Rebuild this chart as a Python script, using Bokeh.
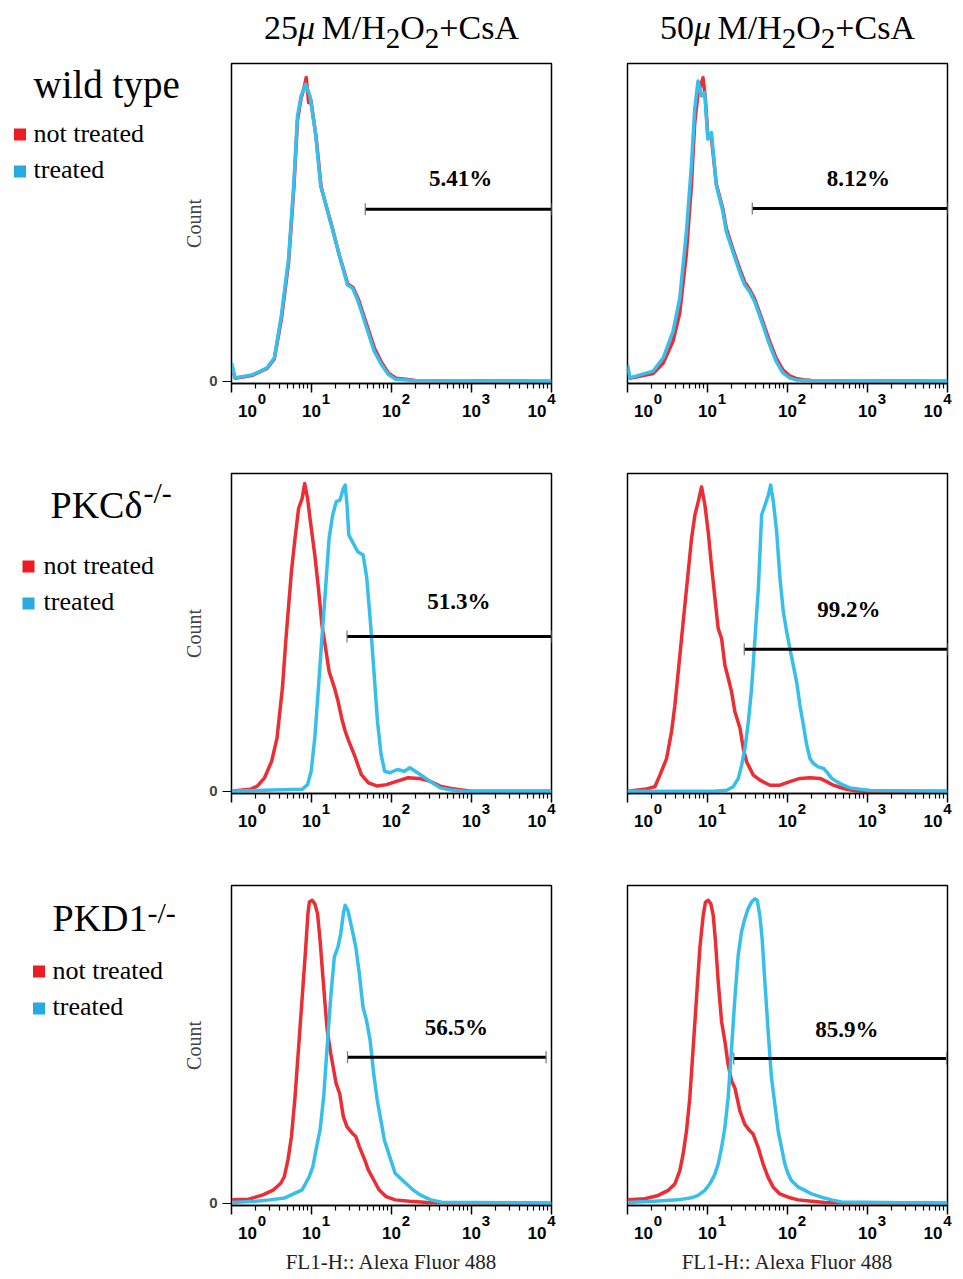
from bokeh.plotting import figure
from bokeh.models import (Range1d, FixedTicker, Label, LogAxis, CustomJSTickFormatter, Spacer)
from bokeh.layouts import row, column
from bokeh.embed import file_html
from bokeh.resources import INLINE

# ---------------------------------------------------------------- data
CONCENTRATIONS = ["25", "50"]
GENOTYPES = ["wild type", "PKCδ", "PKD1"]
SERIES = ["not treated", "treated"]
X_AXIS_LABEL = "FL1-H:: Alexa Fluor 488"
Y_AXIS_LABEL = "Count"
TICK_VALUES = [1, 10, 100, 1000, 10000]
TICK_BASE = ["10", "10", "10", "10", "10"]
TICK_EXP = ["0", "1", "2", "3", "4"]

# wild type, 25 uM
WT25_NT_X = [1, 1.11, 1.85, 2.79, 3.43, 4.21, 5.17, 6.03, 6.68, 7.41, 8.0, 8.6, 9.2, 9.8, 11.4, 13.2, 15.4, 17.9, 22.0, 28.4, 33.2, 38.7, 45.2, 52.7, 61.5, 75.5, 92.6, 114, 150, 200, 10000]
WT25_NT_Y = [5.0, 1.0, 2.0, 4.3, 7.5, 21.0, 40.0, 65.5, 88.0, 95.5, 98.5, 102.5, 94.0, 95.0, 82.5, 65.5, 58.8, 52.5, 43.0, 32.8, 31.5, 27.5, 22.0, 16.5, 11.0, 6.2, 2.6, 1.0, 0.6, 0.2, 0]
WT25_T_X = [1, 1.11, 1.85, 2.79, 3.43, 4.21, 5.17, 6.03, 6.68, 7.41, 8.47, 9.57, 11.2, 13.0, 15.2, 17.7, 21.8, 28.1, 32.8, 38.3, 44.7, 52.1, 60.8, 74.7, 91.6, 113, 188, 10000]
WT25_T_Y = [6.2, 1.1, 2.2, 4.5, 7.8, 22.4, 41.4, 67.2, 89.5, 96.2, 100.2, 96.2, 83.9, 66.0, 59.3, 52.6, 43.6, 32.5, 31.3, 26.9, 21.3, 15.7, 10.1, 5.6, 2.2, 0.6, 0.2, 0]
# wild type, 50 uM
WT50_NT_X = [1, 1.07, 2.09, 2.79, 3.71, 4.50, 5.45, 6.29, 6.92, 7.61, 8.79, 9.4, 10.1, 11.2, 12.9, 15.6, 17.2, 20.8, 25.2, 29.1, 33.6, 38.8, 49.2, 59.6, 72.2, 87.5, 106, 128, 160, 200, 10000]
WT50_NT_Y = [4.5, 1.0, 2.6, 6.0, 13.5, 23.0, 43.0, 66.0, 87.0, 97.0, 102.4, 95.5, 83.0, 82.0, 66.5, 58.0, 51.5, 44.5, 38.0, 33.5, 31.0, 27.8, 20.0, 13.5, 7.8, 3.8, 1.8, 0.9, 0.5, 0.2, 0]
WT50_T_X = [1, 1.07, 2.09, 2.79, 3.71, 4.50, 5.45, 6.29, 6.92, 7.61, 8.38, 9.22, 10.1, 11.2, 12.9, 15.6, 17.2, 20.8, 25.2, 29.1, 33.6, 38.8, 49.2, 59.6, 72.2, 87.5, 106, 128, 188, 10000]
WT50_T_Y = [5.6, 1.1, 3.4, 7.8, 16.8, 28.0, 50.4, 72.7, 91.8, 101.3, 96.2, 97.4, 81.7, 83.9, 66.0, 57.1, 50.4, 43.6, 36.9, 32.5, 30.2, 26.9, 19.0, 12.3, 6.7, 2.8, 1.1, 0.4, 0.2, 0]
# PKCdelta -/-, 25 uM
PKC25_NT_X = [1, 1.71, 2.10, 2.59, 3.18, 3.71, 4.33, 4.80, 5.61, 6.22, 6.90, 7.64, 8.22, 8.93, 9.70, 11.0, 12.2, 13.5, 15.0, 16.6, 19.4, 21.5, 23.8, 26.4, 29.3, 34.2, 42.0, 51.6, 66.8, 86.5, 118, 161, 219, 299, 407, 555, 757, 1000, 10000]
PKC25_NT_Y = [0, 0.6, 1.7, 4.5, 10.1, 18.0, 34.8, 51.6, 74.1, 85.3, 95.4, 98.8, 103.8, 98.8, 90.9, 79.7, 68.5, 56.1, 48.3, 40.4, 34.8, 30.3, 24.7, 20.2, 16.8, 12.3, 5.6, 2.8, 1.7, 2.2, 3.4, 4.5, 4.3, 3.4, 1.7, 0.9, 0.4, 0, 0]
PKC25_T_X = [1, 7.64, 8.93, 9.90, 11.0, 12.2, 13.5, 15.0, 16.6, 18.4, 20.4, 22.6, 25.1, 26.4, 27.8, 29.3, 32.4, 37.9, 44.2, 49.1, 54.4, 60.3, 66.8, 74.1, 82.2, 95.9, 118, 145, 169, 198, 243, 299, 407, 555, 800, 10000]
PKC25_T_Y = [0, 0.6, 2.2, 6.7, 18.0, 34.8, 51.6, 68.5, 85.3, 93.2, 97.7, 98.2, 102.2, 103.3, 96.5, 86.4, 84.2, 80.8, 79.7, 71.9, 57.3, 40.4, 23.6, 12.3, 6.7, 6.2, 7.3, 6.7, 7.9, 6.7, 5.1, 3.4, 1.1, 0.4, 0, 0]
# PKCdelta -/-, 50 uM
PKC50_NT_X = [1, 1.73, 2.20, 2.54, 3.08, 3.55, 3.91, 4.31, 4.97, 5.74, 6.32, 6.96, 7.66, 8.43, 9.29, 10.2, 11.2, 12.4, 13.6, 15.0, 16.5, 18.2, 20.0, 22.0, 25.5, 28.0, 30.8, 37.4, 45.3, 60.4, 80.5, 107, 143, 191, 255, 309, 375, 500, 667, 900, 10000]
PKC50_NT_Y = [0, 0.7, 1.5, 5.4, 11.0, 20.0, 29.0, 40.3, 57.2, 74.0, 85.3, 93.2, 97.7, 102.7, 96.5, 87.5, 76.3, 65.0, 54.9, 51.5, 42.5, 38.0, 33.5, 26.8, 21.2, 14.4, 9.9, 5.4, 3.7, 2.0, 2.0, 3.2, 4.3, 4.5, 4.3, 3.2, 2.0, 0.9, 0.2, 0, 0]
PKC50_T_X = [1, 12.0, 17.3, 21.0, 24.3, 26.7, 29.4, 32.4, 35.6, 39.2, 43.2, 47.5, 52.3, 57.6, 61.5, 66.5, 73.2, 80.5, 88.7, 97.7, 107, 118, 130, 143, 158, 174, 191, 211, 243, 281, 309, 357, 413, 500, 606, 808, 1077, 10000]
PKC50_T_Y = [0, 0, 0.3, 1.5, 4.3, 8.8, 14.4, 23.4, 34.7, 51.5, 68.4, 93.2, 96.5, 99.9, 103.3, 97.7, 87.5, 71.8, 60.5, 53.8, 48.2, 42.5, 36.9, 29.0, 22.3, 15.5, 11.0, 9.3, 8.2, 7.7, 6.5, 4.3, 3.2, 2.0, 1.1, 0.6, 0.2, 0]
# PKD1 -/-, 25 uM
PKD25_NT_X = [1, 1.64, 2.47, 3.36, 4.13, 4.58, 5.08, 5.62, 6.23, 6.91, 7.66, 8.48, 9.02, 9.40, 10.2, 11.0, 11.9, 12.8, 14.2, 15.7, 17.4, 20.3, 22.5, 25.0, 27.7, 32.3, 35.8, 39.6, 46.3, 51.3, 59.8, 69.8, 85.7, 111, 167, 279, 10000]
PKD25_NT_Y = [1.1, 1.3, 2.8, 4.5, 6.7, 9.0, 14.6, 22.5, 35.9, 52.8, 69.6, 86.4, 97.7, 101.6, 102.2, 101.0, 97.7, 88.7, 73.0, 58.4, 50.5, 40.4, 37.0, 29.2, 25.8, 23.6, 22.5, 19.1, 14.6, 11.2, 7.9, 4.5, 2.2, 1.1, 0.6, 0.2, 0]
PKD25_T_X = [1, 2.01, 3.04, 4.58, 6.23, 7.66, 9.40, 10.4, 11.6, 12.8, 14.2, 15.7, 17.4, 19.3, 21.4, 23.2, 25.0, 26.3, 28.5, 32.3, 35.8, 39.6, 44.0, 48.7, 54.0, 59.8, 66.3, 73.5, 81.4, 95.0, 111, 129, 151, 185, 228, 310, 422, 10000]
PKD25_T_Y = [0.2, 0.6, 1.1, 1.7, 3.4, 4.5, 9.0, 12.3, 19.1, 24.7, 35.9, 52.8, 69.6, 83.1, 86.4, 90.9, 97.7, 100.5, 98.8, 92.1, 86.4, 77.5, 66.2, 61.7, 55.0, 43.8, 34.8, 28.1, 21.3, 15.7, 10.1, 8.4, 6.7, 4.5, 2.8, 1.1, 0.3, 0]
# PKD1 -/-, 50 uM
PKD50_NT_X = [1, 1.65, 2.42, 3.22, 3.91, 4.51, 4.96, 5.47, 6.01, 6.62, 7.29, 8.02, 8.83, 9.44, 10.2, 11.0, 11.8, 12.6, 13.6, 15.0, 16.5, 18.1, 20.0, 22.0, 25.4, 29.3, 33.8, 37.2, 43.0, 49.6, 57.3, 66.2, 80.2, 102, 136, 200, 293, 10000]
PKD50_NT_Y = [1.1, 1.5, 2.6, 4.3, 6.5, 11.0, 16.6, 24.4, 35.6, 52.4, 69.2, 86.0, 97.1, 101.6, 102.2, 101.1, 97.1, 88.2, 74.8, 61.3, 54.6, 46.8, 41.2, 38.9, 31.1, 26.6, 24.4, 23.3, 18.8, 13.2, 8.7, 5.4, 3.1, 2.0, 1.1, 0.6, 0.2, 0]
PKD50_T_X = [1, 2.42, 4.30, 6.31, 7.64, 9.26, 10.7, 12.4, 13.6, 15.0, 16.5, 18.1, 20.0, 22.0, 24.2, 26.6, 29.3, 32.2, 35.5, 39.1, 41.8, 45.1, 48.2, 52.1, 57.3, 63.1, 69.5, 76.4, 84.1, 92.6, 102, 112, 136, 165, 200, 266, 355, 473, 10000]
PKD50_T_Y = [0.2, 0.7, 1.1, 1.8, 2.6, 4.3, 6.5, 9.8, 13.2, 18.8, 25.5, 35.6, 52.4, 69.2, 83.7, 91.5, 96.0, 99.4, 101.6, 102.7, 102.2, 97.1, 89.3, 74.8, 58.0, 42.3, 33.4, 24.4, 18.8, 13.2, 9.8, 7.6, 5.4, 4.3, 3.1, 2.0, 1.1, 0.4, 0]

# gates (marker from GATE_LOW to GATE_HIGH) and the percentage of treated cells inside it
GATE_LOW = [47.0, 36.3, 27.8, 28.8, 28.2, 21.3]
GATE_HIGH = [10000, 10000, 10000, 10000, 8570, 9717]
GATE_LEVEL = [58.0, 58.3, 52.2, 47.9, 49.2, 48.8]
PERCENT = ["5.41%", "8.12%", "51.3%", "99.2%", "56.5%", "85.9%"]

CURVES = [
    (WT25_NT_X, WT25_NT_Y, WT25_T_X, WT25_T_Y),
    (WT50_NT_X, WT50_NT_Y, WT50_T_X, WT50_T_Y),
    (PKC25_NT_X, PKC25_NT_Y, PKC25_T_X, PKC25_T_Y),
    (PKC50_NT_X, PKC50_NT_Y, PKC50_T_X, PKC50_T_Y),
    (PKD25_NT_X, PKD25_NT_Y, PKD25_T_X, PKD25_T_Y),
    (PKD50_NT_X, PKD50_NT_Y, PKD50_T_X, PKD50_T_Y),
]

# ---------------------------------------------------------------- layout / style
SERIF = "Liberation Serif"
SANS = "Liberation Sans"
RED = "#EC2D33"
CYAN = "#36BFEC"
KEY_RED = "#ED1C24"
KEY_BLUE = "#27AAE1"
FW, FH = 320, 320
DEC_PX = FW / 4.0
Y0, Y1 = -0.8, 107.2
SIDE_W = 180
BORDER_L = {True: 51, False: 46}
BORDER_R = {True: 30, False: 14}
TITLE_H = 55
ROW_BORDERS = [(8, 57), (33, 57), (35, 70)]
ROW_TOP = [55, 440, 850]
PCT_X = [729, 769, 697, 583, 649, 552]
PCT_Y = [65.8, 65.8, 61.5, 58.6, 56.5, 56.1]
MINOR = [k * 10 ** d for d in range(4) for k in range(2, 10)]
# pixel shifts of the "10" and of the exponent relative to each decade tick
BASE_SHIFT = [16, 0, 0, 0, -14.5]
EXP_SHIFT = [30.5, 14.5, 14.5, 14.5, -0.1]
MID = 0.34   # text is positioned by its middle: baseline sits MID*size below


def dy(px):
    return px * (Y1 - Y0) / FH


def shifted(vals, shifts):
    return [v * 10 ** (s / DEC_PX) for v, s in zip(vals, shifts)]


def title_fig(left, conc):
    t = figure(frame_width=FW, frame_height=TITLE_H, x_range=Range1d(0, FW), y_range=Range1d(TITLE_H, 0),
               x_axis_location=None, y_axis_location=None, toolbar_location=None,
               output_backend="svg", min_border_top=0, min_border_bottom=0,
               min_border_left=BORDER_L[left], min_border_right=BORDER_R[left], outline_line_color=None)
    t.grid.visible = False
    pieces = [(conc, 34, "normal", 1.0, 39), ("μ", 34, "italic", 0.576, 39), ("M/H", 34, "normal", 1.889, 39),
              ("2", 29, "normal", 0.5, 48), ("O", 34, "normal", 0.722, 39), ("2", 29, "normal", 0.5, 48),
              ("+CsA", 34, "normal", 2.342, 39)]
    widths = [w * s + (4 if txt == "μ" else 0) for txt, s, st, w, b in pieces]
    xpos = FW / 2 - sum(widths) / 2
    for (txt, s, st, w, b), wd in zip(pieces, widths):
        t.add_layout(Label(x=xpos, y=b - MID * s, text=txt, text_font=SERIF, text_font_size=f"{s}px",
                           text_font_style=st, text_align="left", text_baseline="middle",
                           text_color="black"))
        xpos += wd
    return t


def label_axis(labels, positions, size, standoff):
    return LogAxis(ticker=FixedTicker(ticks=positions, minor_ticks=[]),
                   formatter=CustomJSTickFormatter(args=dict(labels=labels),
                                                   code="return labels[Math.round(Math.log10(tick))]"),
                   major_tick_out=0, major_tick_in=0, minor_tick_out=0, minor_tick_in=0,
                   axis_line_color=None, major_tick_line_color=None, minor_tick_line_color=None,
                   major_label_standoff=standoff, major_label_text_font=SANS,
                   major_label_text_font_style="bold", major_label_text_font_size=size,
                   major_label_text_color="black")


def make_panel(i, left, top_b, bot_b, xlabel):
    p = figure(frame_width=FW, frame_height=FH, x_axis_type="log",
               x_range=Range1d(1, 10000), y_range=Range1d(Y0, Y1),
               y_axis_location="left" if left else None,
               min_border_left=BORDER_L[left], min_border_right=BORDER_R[left],
               min_border_top=top_b, min_border_bottom=bot_b,
               toolbar_location=None, output_backend="svg")
    p.grid.visible = False
    p.outline_line_color = "black"
    p.outline_line_width = 1.5
    p.outline_line_alpha = 1
    p.background_fill_color = "white"
    p.border_fill_color = "white"

    ax = p.xaxis[0]
    ax.ticker = FixedTicker(ticks=TICK_VALUES, minor_ticks=MINOR)
    ax.formatter = CustomJSTickFormatter(code="return ''")
    ax.major_label_text_font_size = "1px"
    ax.major_label_standoff = 0
    ax.major_tick_out = 9
    ax.major_tick_in = 0
    ax.minor_tick_out = 5
    ax.minor_tick_in = 0
    ax.axis_line_width = 1.5
    ax.major_tick_line_width = 1.5
    ax.minor_tick_line_width = 1.2
    ax.axis_line_color = "black"

    ax_exp = label_axis(TICK_EXP, shifted(TICK_VALUES, EXP_SHIFT), "15px", 1)
    ax_base = label_axis(TICK_BASE, shifted(TICK_VALUES, BASE_SHIFT), "17px", -2)
    p.add_layout(ax_exp, "below")
    p.add_layout(ax_base, "below")
    if xlabel:
        ax_base.axis_label = X_AXIS_LABEL
        ax_base.axis_label_text_font = SERIF
        ax_base.axis_label_text_font_style = "normal"
        ax_base.axis_label_text_font_size = "21px"
        ax_base.axis_label_standoff = 8
        ax_base.axis_label_text_color = "#222222"

    if left:
        ya = p.yaxis[0]
        ya.ticker = FixedTicker(ticks=[0], minor_ticks=[])
        ya.major_tick_out = 9
        ya.major_tick_in = 0
        ya.major_label_standoff = 5
        ya.major_label_text_font = SANS
        ya.major_label_text_font_style = "bold"
        ya.major_label_text_font_size = "15px"
        ya.axis_label = Y_AXIS_LABEL
        ya.axis_label_text_font = SERIF
        ya.axis_label_text_font_style = "normal"
        ya.axis_label_text_font_size = "20px"
        ya.axis_label_standoff = 1
        ya.axis_line_color = "black"

    nx, ny, tx, ty = CURVES[i]
    p.line(nx, ny, line_color=RED, line_width=3.5, line_join="round")
    p.line(tx, ty, line_color=CYAN, line_width=3.5, line_join="round")

    # gate marker
    p.segment(x0=[GATE_LOW[i]], y0=[GATE_LEVEL[i]], x1=[GATE_HIGH[i]], y1=[GATE_LEVEL[i]],
              line_color="black", line_width=3)
    p.segment(x0=[GATE_LOW[i], GATE_HIGH[i]], x1=[GATE_LOW[i], GATE_HIGH[i]],
              y0=[GATE_LEVEL[i] - dy(6)] * 2, y1=[GATE_LEVEL[i] + dy(6)] * 2,
              line_color="#777777", line_width=1.2)
    p.add_layout(Label(x=PCT_X[i], y=PCT_Y[i] + dy(MID * 23), text=PERCENT[i], text_font=SERIF,
                       text_font_style="bold", text_font_size="23px", text_align="center",
                       text_baseline="middle", text_color="black"))
    return p


def make_side(r, top_b, bot_b, name, name_xy, sup, sup_xy, key):
    ftop = ROW_TOP[r] + top_b
    s = figure(frame_width=SIDE_W, frame_height=FH, x_range=Range1d(0, SIDE_W),
               y_range=Range1d(ftop + FH, ftop),
               x_axis_location=None, y_axis_location=None, toolbar_location=None,
               output_backend="svg", min_border_left=0, min_border_right=0,
               min_border_top=top_b, min_border_bottom=bot_b, outline_line_color=None)
    s.grid.visible = False
    nsize = 39 if sup is None else 38
    s.add_layout(Label(x=name_xy[0], y=name_xy[1] - MID * nsize, text=name, text_font=SERIF,
                       text_font_size=f"{nsize}px", text_align="left",
                       text_baseline="middle", text_color="black"))
    if sup:
        s.add_layout(Label(x=sup_xy[0], y=sup_xy[1] - MID * 30, text=sup, text_font=SERIF,
                           text_font_size="30px", text_align="left",
                           text_baseline="middle", text_color="black"))
    kx, ky1, ky2, tx = key
    s.scatter(x=[kx, kx], y=[ky1, ky2], marker="square", size=12,
              fill_color=[KEY_RED, KEY_BLUE], line_color=None)
    for lab, yy in zip(SERIES, [ky1 + 8, ky2 + 7]):
        s.add_layout(Label(x=tx, y=yy - MID * 26, text=lab, text_font=SERIF, text_font_size="26px",
                           text_align="left", text_baseline="middle", text_color="black"))
    return s


side_specs = [
    (GENOTYPES[0], (33, 97), None, None, (19.5, 134, 171, 33)),
    (GENOTYPES[1], (50, 517), "-/-", (143, 502), (28, 566, 603, 43)),
    (GENOTYPES[2], (52, 930), "-/-", (147, 922), (38.5, 971, 1008, 52)),
]

rows = [row(Spacer(width=SIDE_W, height=TITLE_H),
            title_fig(True, CONCENTRATIONS[0]), title_fig(False, CONCENTRATIONS[1]))]
for r in range(3):
    tb, bb = ROW_BORDERS[r]
    nm, nxy, sp, sxy, key = side_specs[r]
    side = make_side(r, tb, bb, nm, nxy, sp, sxy, key)
    pl = make_panel(2 * r, True, tb, bb, r == 2)
    pr = make_panel(2 * r + 1, False, tb, bb, r == 2)
    rows.append(row(side, pl, pr))

layout = column(*rows)
open("out.html", "w").write(file_html(layout, INLINE))
